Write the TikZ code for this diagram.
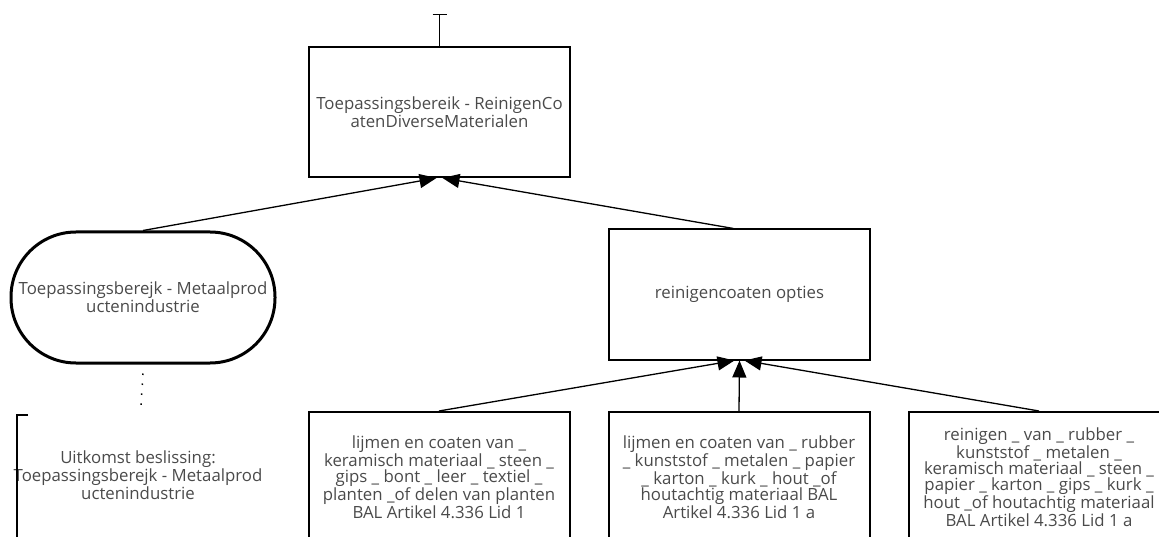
\documentclass[tikz,border=0pt]{standalone}
\usepackage{fontspec}
\setmainfont{Open Sans}
\usetikzlibrary{arrows.meta}
\definecolor{txtgray}{HTML}{4A4A4A}
\tikzset{
  box/.style={draw, line width=2pt, minimum width=261pt, minimum height=130pt,
    inner sep=0pt, align=center, text=txtgray, font=\fontsize{16.8}{14.6}\selectfont},
  label/.style={align=center, text=txtgray, font=\fontsize{16.8}{14.6}\selectfont},
  conn/.style={line width=1.3pt, -{Triangle[length=17pt,width=14pt]}},
}

\begin{document}
\begin{tikzpicture}[x=1pt,y=-1pt]
    \clip (0,0) rectangle (1159,537);
    \node[box] at (439.5,112) (top) {Toepassingsbereik - ReinigenCo\\atenDiverseMaterialen};
    \node[box, rounded corners=65pt, line width=3pt, minimum width=264pt, minimum height=131pt] at (143,297.5) (metaal) {Toepassingsberejk - Metaalprod\\uctenindustrie};
    \node[box] at (739.5,294.5) (opties) {reinigencoaten opties};
    \node[box] at (439,477) (lijmen1) {lijmen en coaten van \_\\keramisch materiaal \_ steen \_\\gips \_ bont \_ leer \_ textiel \_\\planten \_of delen van planten\\BAL Artikel 4.336 Lid 1};
    \node[box] at (739,477) (lijmen2) {lijmen en coaten van \_ rubber\\\_ kunststof \_ metalen \_ papier\\\_ karton \_ kurk \_ hout \_of\\houtachtig materiaal BAL\\Artikel 4.336 Lid 1 a};
    \node[box] at (1039,477) (reinigen) {reinigen \_ van \_ rubber \_\\kunststof \_ metalen \_\\keramisch materiaal \_ steen \_\\papier \_ karton \_ gips \_ kurk \_\\hout \_of houtachtig materiaal\\BAL Artikel 4.336 Lid 1 a};
    \node[label] at (138,475) (uitkomst) {Uitkomst beslissing:\\Toepassingsberejk - Metaalprod\\uctenindustrie};

    % bracket of the outcome note
    \draw[line width=2pt] (28,415) -- (17,415) -- (17,540);

    \coordinate (stub) at (439.5,14);
    \draw[line width=1.3pt, -{Bar[width=14pt,line width=1.5pt]}] (top.north) -- (stub);

    \draw[conn] (metaal.north) -- ([xshift=-3pt]top.south);
    \draw[conn] ([xshift=-6pt]opties.north) -- ([xshift=3pt]top.south);
    \draw[conn] (lijmen1.north) -- ([xshift=-5pt]opties.south);
    \draw[conn] (lijmen2.north) -- (opties.south);
    \draw[conn] (reinigen.north) -- ([xshift=5pt]opties.south);

    \coordinate (dotend) at (141,405);
    \draw[line width=1.5pt, dash pattern=on 1.5pt off 8.5pt] ([yshift=-9pt]metaal.south) -- (dotend);
\end{tikzpicture}
\end{document}
